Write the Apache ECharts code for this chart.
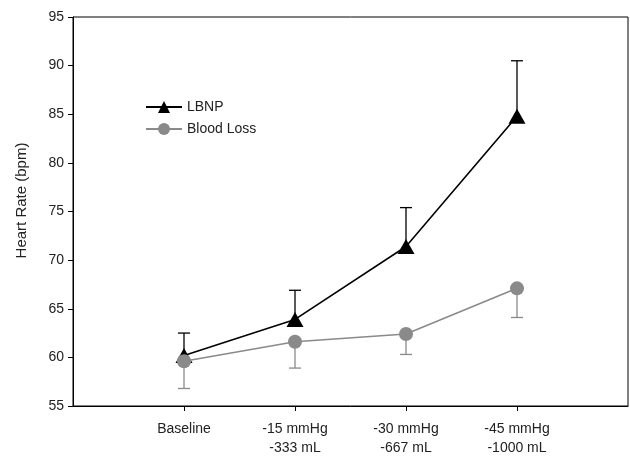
<!DOCTYPE html>
<html><head><meta charset="utf-8">
<script src="https://cdn.jsdelivr.net/npm/echarts@6/dist/echarts.min.js"></script>
<style>html,body{margin:0;padding:0;background:#fff}#c{width:630px;height:456px}</style>
</head><body><div id="c"></div>
<script>
const categories = ['Baseline', '-15 mmHg\n-333 mL', '-30 mmHg\n-667 mL', '-45 mmHg\n-1000 mL'];
const lbnpMean = [60.2, 63.9, 71.4, 84.8];
const lbnpErrTop = [62.5, 66.9, 75.4, 90.5];
const bloodMean = [59.6, 61.6, 62.4, 67.1];
const bloodErrBottom = [56.8, 58.9, 60.3, 64.1];
const yTicks = [55, 60, 65, 70, 75, 80, 85, 90, 95];

const xPos = categories.map((c, i) => i + 1);
const font = 'Liberation Sans, Arial, sans-serif';

function errSeries(name, means, ends, color, z) {
  return {
    type: 'custom', name: name + ' err', z: z, silent: true,
    data: xPos.map((x, i) => [x, means[i], ends[i]]),
    encode: { x: 0, y: [1, 2] },
    renderItem: function (params, api) {
      const p0 = api.coord([api.value(0), api.value(1)]);
      const p1 = api.coord([api.value(0), api.value(2)]);
      const hw = 6;
      const st = { stroke: color, lineWidth: 1.3 };
      return { type: 'group', children: [
        { type: 'line', shape: { x1: p0[0], y1: p0[1], x2: p1[0], y2: p1[1] }, style: st },
        { type: 'line', shape: { x1: p1[0] - hw, y1: p1[1], x2: p1[0] + hw, y2: p1[1] }, style: st }
      ]};
    }
  };
}

const chart = echarts.init(document.getElementById('c'));
chart.setOption({
  animation: false,
  backgroundColor: '#fff',
  grid: { left: 73, top: 17, right: 2, bottom: 50, show: true, borderColor: '#000', borderWidth: 1,
    containLabel: false, outerBoundsMode: 'none' },
  legend: {
    orient: 'vertical', left: 140, top: 95, itemWidth: 36, itemHeight: 15, itemGap: 8,
    textStyle: { fontFamily: font, fontSize: 14, color: '#222' },
    data: ['LBNP', 'Blood Loss']
  },
  xAxis: {
    type: 'value', min: 0, max: 5, interval: 1,
    splitLine: { show: false },
    axisLine: { show: true, onZero: false, lineStyle: { color: '#000', width: 1 } },
    axisTick: { show: true, length: 5, customValues: xPos, lineStyle: { color: '#000' } },
    axisLabel: {
      customValues: xPos, margin: 14, lineHeight: 19,
      fontFamily: font, fontSize: 14, color: '#222',
      formatter: v => categories[Math.round(v) - 1] || ''
    }
  },
  yAxis: {
    type: 'value', min: 55, max: 95, interval: 5,
    name: 'Heart Rate (bpm)', nameLocation: 'middle', nameGap: 44,
    nameTextStyle: { fontFamily: font, fontSize: 15, color: '#222', padding: [0, 0, 0, 22] },
    splitLine: { show: false },
    axisLine: { show: true, lineStyle: { color: '#000', width: 1 } },
    axisTick: { show: true, length: 5, lineStyle: { color: '#000' } },
    axisLabel: { margin: 9, fontFamily: font, fontSize: 14, color: '#222',
      formatter: v => yTicks.includes(v) ? String(v) : '' }
  },
  series: [
    errSeries('LBNP', lbnpMean, lbnpErrTop, '#000', 2),
    {
      name: 'LBNP', type: 'line', z: 3,
      data: xPos.map((x, i) => [x, lbnpMean[i]]),
      symbol: 'triangle', symbolSize: [17, 15],
      itemStyle: { color: '#000' }, lineStyle: { color: '#000', width: 1.6 }
    },
    errSeries('Blood Loss', bloodMean, bloodErrBottom, '#8a8a8a', 4),
    {
      name: 'Blood Loss', type: 'line', z: 5,
      data: xPos.map((x, i) => [x, bloodMean[i]]),
      symbol: 'circle', symbolSize: 14,
      itemStyle: { color: '#8a8a8a' }, lineStyle: { color: '#8a8a8a', width: 1.6 }
    }
  ]
});
</script></body></html>
